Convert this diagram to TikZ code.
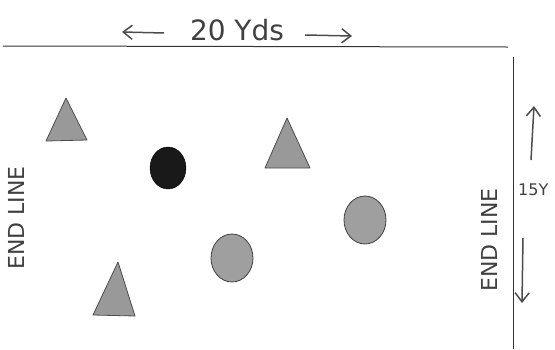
\documentclass[tikz,border=0pt]{standalone}
\usepackage{fontspec}
\setmainfont{DejaVu Sans}
\usetikzlibrary{arrows.meta,shapes.geometric}
\begin{document}
\begin{tikzpicture}[x=1pt,y=-1pt,
  cone/.style={fill=gray!80, draw=gray!60!black, line width=0.8pt, line join=round},
  disc/.style={ellipse, fill=gray!75, draw=gray!50!black, line width=0.8pt, inner sep=0pt},
  field/.style={line width=1pt, draw=black!80},
  hand/.style={text=black!75, inner sep=0pt},
  dim/.style={-{Straight Barb[length=9pt,width=14pt,line width=1.5pt]}, line width=1.5pt, draw=black!70}]
\useasboundingbox (0,0) rectangle (555,349);
\coordinate (tl) at (3,46);
\coordinate (tr) at (508,47);
\coordinate (vt) at (513,57);
\coordinate (vb) at (513,349);
\draw[field] (tl) -- (tr);
\draw[field] (vt) -- (vb);
% top label
\node[hand, font=\fontsize{28}{30}\selectfont] (top) at (237,30) {20 Yds};
\coordinate (tla) at (122,32);
\coordinate (tlb) at (164,33);
\coordinate (tra) at (305,35);
\coordinate (trb) at (352,36);
\draw[dim] (tlb) -- (tla);
\draw[dim] (tra) -- (trb);
% side labels
\node[hand, rotate=90, font=\fontsize{22}{24}\selectfont] (endl) at (16,218) {END LINE};
\node[hand, rotate=90, font=\fontsize{22}{24}\selectfont] (endr) at (489,240) {END LINE};
\node[hand, anchor=west, font=\fontsize{16}{18}\selectfont] (fif) at (518,190) {15Y};
\coordinate (ua) at (531,160);
\coordinate (ub) at (534,106);
\coordinate (da) at (523,238);
\coordinate (db) at (522,303);
\draw[dim] (ua) -- (ub);
\draw[dim] (da) -- (db);
% cones
\draw[cone] (66,98) -- (87,140) -- (46,141) -- cycle;
\draw[cone] (287,118) -- (310,168) -- (265,168) -- cycle;
\draw[cone] (118,262) -- (135,316) -- (93,315) -- cycle;
% discs
\node[ellipse, fill=black!90, draw=black, minimum width=36pt, minimum height=42pt, inner sep=0pt] (ball) at (168,168) {};
\node[disc, minimum width=42pt, minimum height=48pt] (d1) at (232,258) {};
\node[disc, minimum width=42pt, minimum height=48pt] (d2) at (365,220) {};
\end{tikzpicture}
\end{document}
